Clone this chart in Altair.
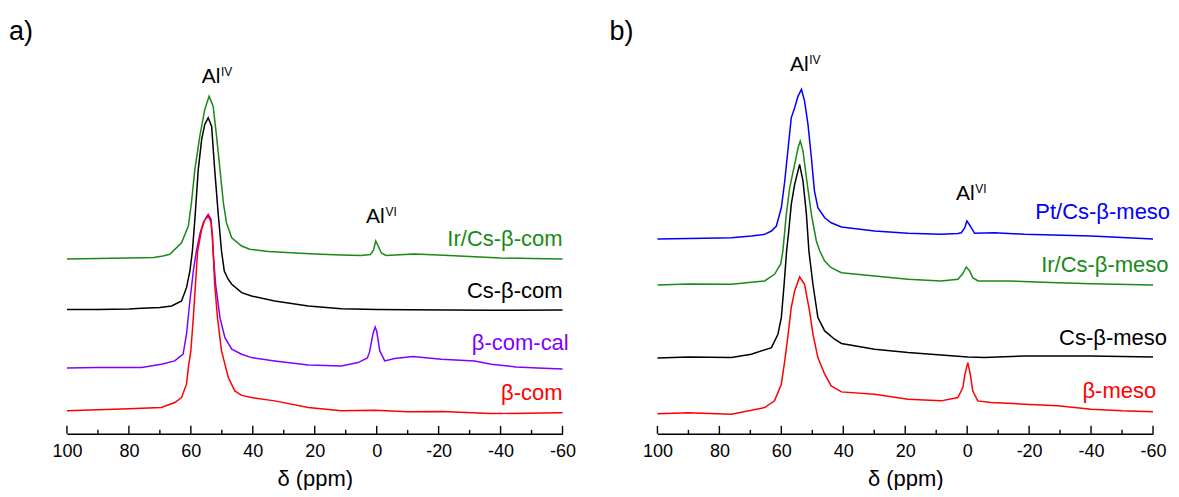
import altair as alt
import pandas as pd

FONT = "Liberation Sans"
W, H = 496, 383

# ---------------- panel a) ----------------
a_names = ["Ir/Cs-β-com", "Cs-β-com", "β-com-cal", "β-com"]
a_colors = ["#178a17", "#000000", "#8000ff", "#ff0000"]

a_green_ppm = [100, 90, 80, 72, 69, 66.8, 63, 60.8, 59.8, 58.7, 57.1, 55.5, 54.1, 52.8, 51.7, 50.6, 49.5, 48.5,
               46.8, 43.6, 41, 35, 27.5, 20, 11.4, 5, 2, 1, 0.3, -0.5, -1.5, -3, -6, -12, -20, -30, -40, -50, -60]
a_green_int = [175, 175.5, 176, 176.5, 178, 179.7, 191.3, 208, 231.3, 264.7, 298, 324.7, 338, 328, 298, 264.7, 231.3,
               211.3, 196.3, 188, 184.7, 182.5, 181.3, 180, 179, 178.5, 179.5, 184, 193, 188, 181, 178.5, 179, 180,
               179, 177.5, 176, 175.5, 175]

a_black_ppm = [100, 90, 80, 75.9, 70, 66.2, 63, 61.4, 60.3, 59.5, 58.7, 57.6, 56.5, 55.5, 54.4, 53.3, 52.3, 51.2,
               50.1, 49.2, 48, 46.8, 43.6, 40.4, 32.9, 22.1, 11.4, 0, -10.1, -37, -60]
a_black_int = [124.5, 124.5, 125, 125.7, 126.5, 128, 133, 146.3, 163, 183, 214.7, 264.7, 294.7, 309.7, 316.3, 308,
               264.7, 221.3, 183, 163, 155, 149.7, 141.3, 138, 133, 128, 125.3, 124.5, 124.3, 123.7, 124]

a_purple_ppm = [100, 90, 80, 75.9, 69.5, 65.2, 62.5, 61.4, 60.3, 59.2, 58.2, 57.0, 56.0, 55.0, 54.4, 53.5, 53.1,
                52.8, 52.0, 50.6, 49.0, 46.8, 43.6, 40.4, 32.9, 22.1, 11.4, 6.0, 3, 2.3, 1.2, 0.5, 0, -1.0, -2.6,
                -5.8, -11.7, -20.9, -31.6, -37, -45, -52, -60]
a_purple_int = [66, 66.5, 66.5, 66.3, 69.7, 73, 79.7, 99.7, 133, 163, 183, 201, 211, 217, 219.7, 214.7, 198,
                181.3, 149.7, 116.3, 96.3, 84.7, 79.7, 76.3, 73, 69, 68, 71.3, 76, 82, 100, 107, 103, 83, 73,
                75.3, 77.3, 74.7, 73, 69.7, 67, 66, 65]

a_red_ppm = [100, 90, 80, 69.5, 65.2, 63, 61.4, 60.8, 60, 59.2, 58.5, 57.8, 56.5, 55.5, 54.4, 53.5, 53, 52.8,
             52.3, 51.4, 50.1, 47.9, 45.8, 43.6, 40.4, 32.9, 22.1, 11.4, 0.6, -10.1, -20.9, -37, -60]
a_red_int = [23, 24, 25, 26.3, 31.3, 36.3, 49.7, 66.3, 83, 116.3, 149.7, 183, 205, 214, 218, 212, 198, 183,
             149.7, 116.3, 83, 56.3, 43, 38.5, 36.3, 33, 26.3, 23, 23.7, 22, 22.3, 20.3, 21]

a_label_ppm = [-60, -60, -62, -60]
a_label_int = [195, 143, 90.5, 41]

a_ann_ppm = [53.5, 0.4]
a_ann_int = [357.5, 217.5]
a_ann_sup = ["IV", "VI"]

# ---------------- panel b) ----------------
b_names = ["Pt/Cs-β-meso", "Ir/Cs-β-meso", "Cs-β-meso", "β-meso"]
b_colors = ["#0000ff", "#178a17", "#000000", "#ff0000"]

b_blue_ppm = [100, 90, 80, 76.1, 69.7, 65.4, 63.2, 61.6, 60, 58.9, 57.8, 56.8, 55.7, 54.6, 53.5, 52.5, 51.4,
              50.3, 49.3, 48.2, 46, 43.9, 40.6, 29.9, 19.1, 8.4, 3, 1.9, 0.8, 0.1, -0.8, -1.3, -2.4, -8.8, -18.5,
              -40, -50, -60]
b_blue_int = [195, 195.5, 196, 196.3, 198, 199.7, 203, 208, 226.3, 253, 286.3, 316.3, 326.3, 338, 344.7, 333,
              309.7, 276.3, 243, 226.3, 216.3, 211.3, 207, 203, 200.7, 199.7, 200.5, 201.3, 206, 213, 209,
              206.3, 200.7, 201.3, 199.7, 198, 196.5, 195]

b_green_ppm = [100, 90, 76.1, 65.4, 62.2, 60.2, 59.5, 58.4, 57.3, 55.7, 54.6, 53.9, 53, 51.9, 50.3, 48.7, 47.6,
               46, 43.9, 40.6, 29.9, 19.1, 8.4, 3, 1.5, 0.3, -0.8, -1.8, -3.5, -13.1, -29.3, -40, -60]
b_green_int = [149, 150, 149.7, 153, 159.7, 170, 183, 219.7, 246.3, 269.7, 286.3, 293, 283, 256.3, 219.7, 193,
               183, 173, 166.3, 161.3, 158, 154.7, 153, 154.7, 160, 167, 163, 156.3, 153, 153, 151.3, 150.3, 149]

b_black_ppm = [100, 90, 76.1, 69.7, 63.2, 61.1, 60, 59.1, 58.3, 57.6, 56.8, 55.7, 54.1, 53, 51.9, 51.1, 49.8,
               48.2, 46, 42.8, 40.6, 29.9, 19.1, 8.4, -0.2, -5.6, -18.5, -40, -60]
b_black_int = [76, 77, 76.3, 79.7, 86.3, 99.7, 116.3, 149.7, 183, 203, 229.7, 249.7, 269.7, 253, 219.7, 183,
               149.7, 116.3, 103, 94.7, 90.5, 84.7, 81.3, 79, 77, 76.3, 78, 78, 77]

b_red_ppm = [100, 90, 76.1, 65.4, 62.2, 60, 58.9, 57.8, 56.8, 55.7, 54.1, 52.5, 50.9, 49.8, 48.2, 46, 43.9,
             40.6, 29.9, 19.1, 8.4, 3, 1.4, 0.7, -0.2, -1, -1.8, -3.4, -7.7, -18.5, -29.3, -40, -50, -60]
b_red_int = [20, 21, 19.7, 26.3, 33, 49.7, 73, 99.7, 126.3, 143, 157, 149.7, 123, 99.7, 76.3, 59.7, 48,
             42, 39.7, 34.7, 33, 36.3, 46.3, 59.7, 71.3, 59.7, 43, 33, 31.3, 29.7, 28, 24.7, 23, 22]

b_label_ppm = [-65.5, -65, -64.5, -61]
b_label_int = [222.5, 169, 96, 43]

b_ann_ppm = [54.2, 0.6]
b_ann_int = [369.5, 240.5]
b_ann_sup = ["IV", "VI"]

# ---------------- shared axis ticks ----------------
major_ticks = [100, 80, 60, 40, 20, 0, -20, -40, -60]
minor_ticks = [90, 70, 50, 30, 10, -10, -30, -50]


def panel(title, title_dx, names, colors, ppms, ints, lab_ppm, lab_int, ann_ppm, ann_int, ann_sup):
    df = pd.concat(
        [pd.DataFrame({"ppm": p, "intensity": i, "series": n}) for n, p, i in zip(names, ppms, ints)],
        ignore_index=True,
    )
    labels = pd.DataFrame({"series": names, "ppm": lab_ppm, "intensity": lab_int})
    ann = pd.DataFrame({"ppm": ann_ppm, "intensity": ann_int, "sup": ann_sup})

    xscale = alt.Scale(domain=[-60, 100], reverse=True, nice=False, zero=False)
    yscale = alt.Scale(domain=[0, H], nice=False, zero=False)
    color = alt.Color("series:N", scale=alt.Scale(domain=names, range=colors), legend=None)

    lines = alt.Chart(df).mark_line(strokeWidth=1.5).encode(
        x=alt.X(
            "ppm:Q",
            scale=xscale,
            axis=alt.Axis(
                title="δ (ppm)",
                values=major_ticks,
                labelExpr="datum.value + ''",
                ticks=False,
                tickSize=0,
                grid=False,
                labelFlush=False,
                labelPadding=9,
                labelFontSize=18,
                labelFont=FONT,
                labelColor="#000000",
                titleFont=FONT,
                titleFontSize=22,
                titleFontWeight="normal",
                titleColor="#000000",
                titlePadding=8,
                domainColor="#000000",
                domainWidth=1.5,
            ),
        ),
        y=alt.Y("intensity:Q", scale=yscale, axis=None),
        color=color,
    )

    major = alt.Chart(pd.DataFrame({"ppm": major_ticks})).mark_rule(color="#000000", strokeWidth=1.4).encode(
        x=alt.X("ppm:Q", scale=xscale), y=alt.value(H), y2=alt.value(H - 8)
    )
    minor = alt.Chart(pd.DataFrame({"ppm": minor_ticks})).mark_rule(color="#000000", strokeWidth=1.4).encode(
        x=alt.X("ppm:Q", scale=xscale), y=alt.value(H), y2=alt.value(H - 4)
    )

    text = alt.Chart(labels).mark_text(align="right", baseline="middle", fontSize=22, font=FONT).encode(
        x=alt.X("ppm:Q", scale=xscale),
        y=alt.Y("intensity:Q", scale=yscale),
        text="series:N",
        color=color,
    )

    al = alt.Chart(ann).mark_text(align="center", baseline="middle", fontSize=21, font=FONT, color="#000000").encode(
        x=alt.X("ppm:Q", scale=xscale),
        y=alt.Y("intensity:Q", scale=yscale),
        text=alt.value("Al"),
    )
    sup = alt.Chart(ann).mark_text(align="left", baseline="middle", fontSize=12, font=FONT, color="#000000",
                                   dx=10, dy=-5).encode(
        x=alt.X("ppm:Q", scale=xscale),
        y=alt.Y("intensity:Q", scale=yscale),
        text="sup:N",
    )

    return alt.layer(lines, major, minor, text, al, sup).properties(
        width=W,
        height=H,
        title=alt.TitleParams(
            text=title, anchor="start", dx=title_dx, fontSize=27, font=FONT, fontWeight="normal",
            color="#000000", offset=5,
        ),
    )


pa = panel("a)", -43, a_names, a_colors,
           [a_green_ppm, a_black_ppm, a_purple_ppm, a_red_ppm],
           [a_green_int, a_black_int, a_purple_int, a_red_int],
           a_label_ppm, a_label_int, a_ann_ppm, a_ann_int, a_ann_sup)
pb = panel("b)", -33, b_names, b_colors,
           [b_blue_ppm, b_green_ppm, b_black_ppm, b_red_ppm],
           [b_blue_int, b_green_int, b_black_int, b_red_int],
           b_label_ppm, b_label_int, b_ann_ppm, b_ann_int, b_ann_sup)

chart = (
    alt.hconcat(pa, pb, spacing=95, bounds="flush")
    .resolve_scale(color="independent")
    .configure_view(strokeWidth=0)
    .properties(padding={"left": 0, "top": 10, "right": 0, "bottom": 0}, background="#ffffff")
)

chart.save("out.html", embed_options={"renderer": "svg", "actions": False})
